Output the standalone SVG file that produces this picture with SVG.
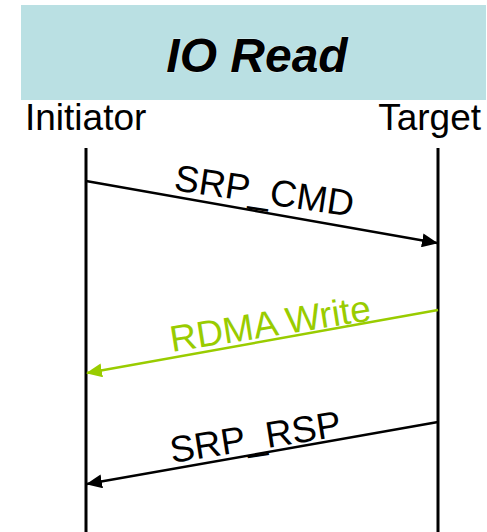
<svg xmlns="http://www.w3.org/2000/svg" width="487" height="532" viewBox="0 0 487 532">
<style>
text{font-family:"Liberation Sans",Arial,sans-serif}
.lbl{font-size:37px;fill:#000}
.life{stroke:#000;stroke-width:3}
.msg{stroke:#000;stroke-width:2.5;fill:none}
</style>
<defs>
<marker id="ah" markerUnits="userSpaceOnUse" markerWidth="16" markerHeight="14" refX="15" refY="7" orient="auto"><path d="M0,0 L16,7 L0,14 Z" fill="#000"/></marker>
<marker id="ahg" markerUnits="userSpaceOnUse" markerWidth="16" markerHeight="14" refX="15" refY="7" orient="auto"><path d="M0,0 L16,7 L0,14 Z" fill="#99CC00"/></marker>
</defs>
<g id="header">
<rect x="21" y="5" width="465" height="95" fill="#BAE0E3"/>
<text x="257" y="72" text-anchor="middle" font-size="48" font-weight="bold" font-style="italic" fill="#000" stroke="#fff" stroke-opacity="0.5" stroke-width="1" paint-order="stroke">IO Read</text>
</g>
<g id="initiator">
<text class="lbl" x="25" y="130">Initiator</text>
<line class="life" x1="86" y1="148" x2="86" y2="532"/>
</g>
<g id="target">
<text class="lbl" x="481" y="130" text-anchor="end">Target</text>
<line class="life" x1="438" y1="148" x2="438" y2="532"/>
</g>
<g id="connectors">
<line class="msg" x1="86" y1="181" x2="437" y2="243" marker-end="url(#ah)"/>
<text class="lbl" x="173" y="190" transform="rotate(8.5 173 190)">SRP_CMD</text>
<line class="msg" style="stroke:#99CC00" x1="438" y1="310" x2="87" y2="373" marker-end="url(#ahg)"/>
<text class="lbl" x="172" y="352" style="fill:#99CC00" transform="rotate(-9 172 352)">RDMA Write</text>
<line class="msg" x1="438" y1="422" x2="87" y2="484" marker-end="url(#ah)"/>
<text class="lbl" x="172" y="463" transform="rotate(-9 172 463)">SRP_RSP</text>
</g>
</svg>
